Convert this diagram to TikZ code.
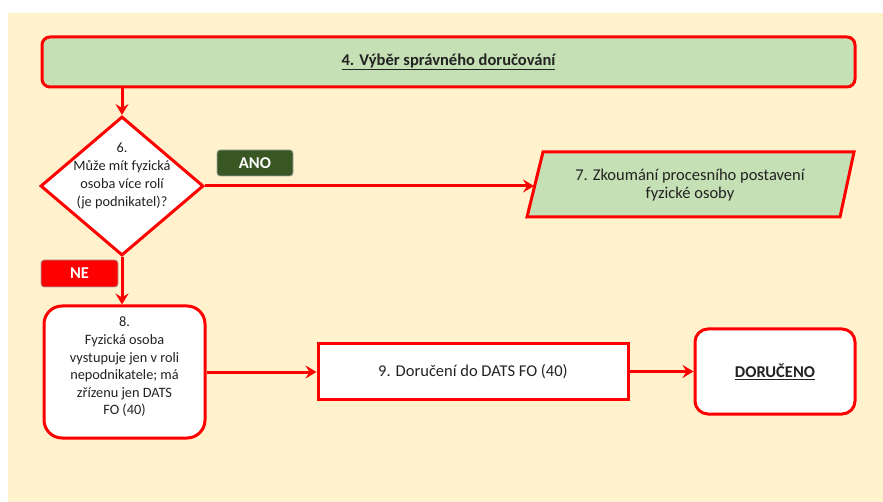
\documentclass[tikz,border=0pt]{standalone}
\usepackage{fontspec}
\setmainfont{Carlito}
\usetikzlibrary{shapes.geometric,arrows.meta}
\definecolor{cream}{HTML}{FFF2CC}
\definecolor{boxgreen}{HTML}{C5E0B4}
\definecolor{anogreen}{HTML}{385723}
\definecolor{linered}{HTML}{FF0000}
\definecolor{txt}{HTML}{222222}
\tikzset{
  flow/.style={draw=linered, line width=3pt},
  arr/.style={draw=linered, line width=3pt,
    -{Stealth[length=11pt,width=13pt,inset=4pt]}},
  label/.style={font=\fontsize{16.5}{18}\selectfont, text=txt, align=center},
  small/.style={font=\fontsize{14.3}{17.6}\selectfont, text=txt, align=center},
  tag/.style={draw=gray!70, line width=0.8pt, rounded corners=3pt,
    text=white, font=\bfseries\fontsize{16.5}{18}\selectfont}
}
\begin{document}
\begin{tikzpicture}[x=1pt,y=-1pt]
  % page and cream backdrop
  \fill[white] (0,0) rectangle (883,502);
  \fill[cream] (8,13) rectangle (883,502);
  \useasboundingbox (0,0) rectangle (883,502);

  % step 4 banner
  \node[flow, fill=boxgreen, rounded corners=8pt, minimum width=813pt,
        minimum height=50pt, label] (top) at (448.5,62)
        {\bfseries\underline{4. Výběr správného doručování}};

  % decision 6
  \node[flow, diamond, fill=white, minimum width=163pt, minimum height=139pt,
        inner sep=0pt] (dec) at (122,186) {};
  \node[small, font=\fontsize{14.3}{18}\selectfont] (dectext) at (122,176)
        {6.\\Může mít fyzická\\osoba více rolí\\(je podnikatel)?};

  % step 7 (parallelogram)
  \filldraw[flow, fill=boxgreen, line join=miter]
        (543,152) -- (854,152) -- (840,217) -- (527,217) -- cycle;
  \node[label] (p7) at (690,185)
        {7. Zkoumání procesního postavení\\fyzické osoby};
  \coordinate (p7in) at (534,186);

  % step 8
  \node[flow, fill=white, rounded corners=18pt, minimum width=161pt,
        minimum height=132pt] (b8) at (124.5,372) {};
  \node[small] (b8text) at (124.5,367)
        {8.\\Fyzická osoba\\vystupuje jen v roli\\nepodnikatele; má\\zřízenu jen DATS\\FO (40)};

  % step 9
  \node[flow, fill=white, minimum width=310pt, minimum height=55pt,
        label] (b9) at (473,371.5) {9. Doručení do DATS FO (40)};

  % end state
  \node[flow, fill=white, rounded corners=13pt, minimum width=160pt,
        minimum height=85pt, label] (done) at (775,371.5)
        {\bfseries\underline{DORUČENO}};

  % branch tags
  \node[tag, fill=anogreen, minimum width=76pt, minimum height=26pt]
        (ano) at (255,163) {ANO};
  \node[tag, fill=linered, minimum width=77pt, minimum height=27pt]
        (ne) at (79.5,273.5) {NE};

  % connectors
  \draw[arr] (dec.north |- top.south) -- (dec.north);
  \draw[arr] (dec.east) -- (p7in);
  \draw[arr] (dec.south) -- (dec.south |- b8.north);
  \draw[arr] (b8.east) -- (b8.east -| b9.west);
  \draw[arr] (b9.east) -- (done.west);
\end{tikzpicture}
\end{document}
